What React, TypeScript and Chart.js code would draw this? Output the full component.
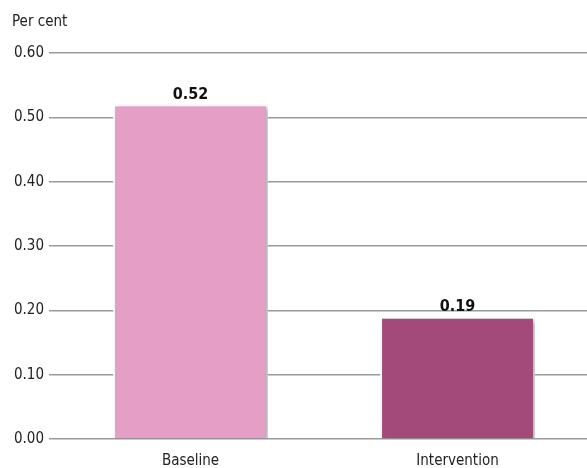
import React, { useEffect, useRef } from "react";
import { Chart, registerables } from "chart.js";

Chart.register(...registerables);

const categories = ["Baseline", "Intervention"];
const values = [0.52, 0.19];
const barColors = ["#e59fc6", "#a34a7b"];
const yTitle = "Per cent";

const FONT = "'Liberation Sans Narrow', 'DejaVu Sans Condensed', 'Roboto', sans-serif";

const labelsPlugin = {
  id: "customLabels",
  beforeDatasetsDraw(chart: any) {
    const ctx = chart.ctx;
    ctx.save();
    ctx.shadowColor = "rgba(0,0,0,0.35)";
    ctx.shadowBlur = 4;
    ctx.shadowOffsetX = 2;
    ctx.shadowOffsetY = 2;
  },
  afterDatasetsDraw(chart: any) {
    const ctx = chart.ctx;
    ctx.restore();
    const meta = chart.getDatasetMeta(0);
    ctx.save();
    ctx.fillStyle = "#111";
    ctx.font = `bold 16px ${FONT}`;
    ctx.textAlign = "center";
    ctx.textBaseline = "bottom";
    meta.data.forEach((bar: any, i: number) => {
      ctx.fillText(values[i].toFixed(2), bar.x, bar.y - 2);
    });
    ctx.restore();
  },
  afterDraw(chart: any) {
    const ctx = chart.ctx;
    ctx.save();
    ctx.fillStyle = "#222";
    ctx.font = `15px ${FONT}`;
    ctx.textAlign = "left";
    ctx.textBaseline = "middle";
    ctx.fillText(yTitle, 12, 22);
    ctx.restore();
  },
};

export default function App() {
  const ref = useRef<HTMLCanvasElement>(null);
  useEffect(() => {
    if (!ref.current) return;
    const chart = new Chart(ref.current, {
      type: "bar",
      data: {
        labels: categories,
        datasets: [
          {
            data: values,
            backgroundColor: barColors,
            borderColor: "#ffffff",
            borderWidth: 2,
            categoryPercentage: 1,
            barPercentage: 0.58,
          },
        ],
      },
      options: {
        animation: false,
        responsive: false,
        layout: { padding: { top: 53, left: 9, right: 0, bottom: 1 } },
        plugins: { legend: { display: false }, tooltip: { enabled: false } },
        scales: {
          x: {
            grid: { display: false },
            border: { display: false },
            ticks: { color: "#222", font: { family: FONT, size: 15 }, padding: 5, maxRotation: 0 },
            afterFit: (scale: any) => {
              scale.height = 28;
            },
          },
          y: {
            min: 0,
            max: 0.6,
            ticks: {
              stepSize: 0.1,
              color: "#222",
              font: { family: FONT, size: 15 },
              padding: 5,
              callback: (v: any) => Number(v).toFixed(2),
            },
            grid: { color: "#9a9a9a", lineWidth: 1.5, tickLength: 8 },
            border: { display: false },
          },
        },
      },
      plugins: [labelsPlugin],
    });
    return () => chart.destroy();
  }, []);
  return (
    <div style={{ position: "absolute", left: 0, top: 0, width: 587, height: 468, overflow: "hidden", background: "#fff" }}>
      <canvas ref={ref} width={591} height={468} style={{ display: "block" }} />
    </div>
  );
}
